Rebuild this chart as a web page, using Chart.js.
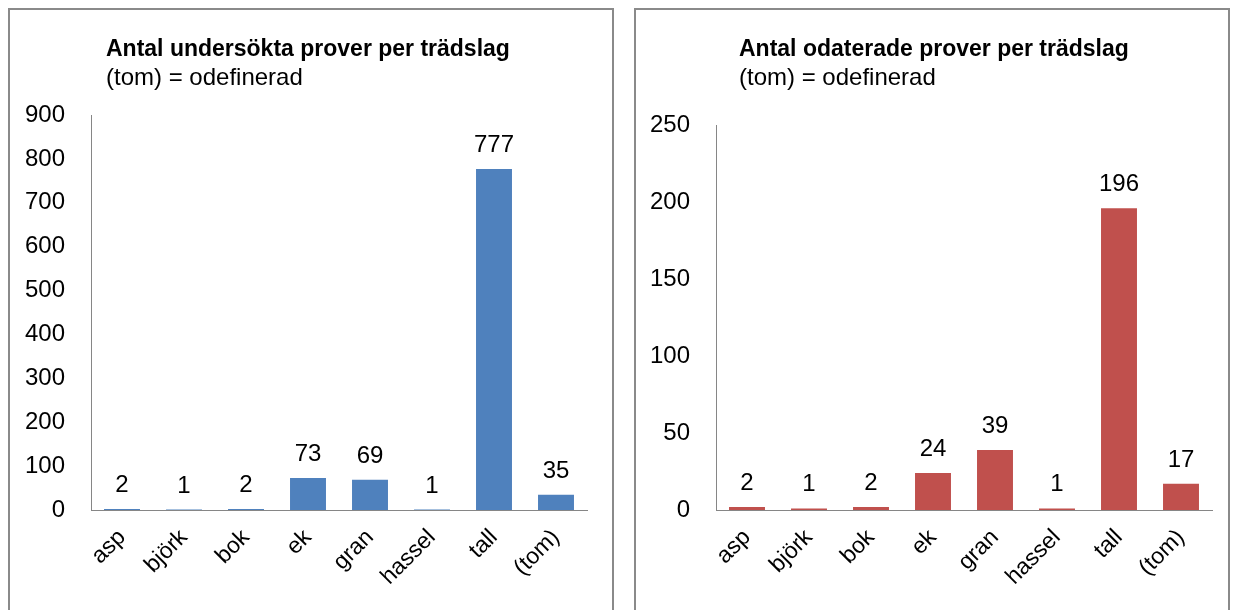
<!DOCTYPE html>
<html>
<head>
<meta charset="utf-8">
<script src="https://cdn.jsdelivr.net/npm/chart.js@4.4.1/dist/chart.umd.min.js"></script>
<style>
  body { margin: 0; background: #fff; width: 1236px; height: 610px; overflow: hidden; position: relative; }
  .panel { position: absolute; top: 8px; height: 620px; border: 2px solid #8a8a8a; background: #fff; }
  .panel canvas { position: absolute; left: 0; top: 0; }
  .title { position: absolute; font-family: "Liberation Sans", Arial, sans-serif; color: #000; white-space: nowrap; }
  .title b { display: block; font-size: 23px; line-height: 26px; }
  .title span { display: block; font-size: 24px; line-height: 28px; margin-top: 2px; }
</style>
</head>
<body>
<div class="panel" id="p1" style="left:8px; width:602px;">
  <canvas id="c1" width="602" height="600"></canvas>
  <div class="title" style="left:96px; top:25px;"><b>Antal undersökta prover per trädslag</b><span>(tom) = odefinerad</span></div>
</div>
<div class="panel" id="p2" style="left:634px; width:592px;">
  <canvas id="c2" width="592" height="600"></canvas>
  <div class="title" style="left:103px; top:25px;"><b>Antal odaterade prover per trädslag</b><span>(tom) = odefinerad</span></div>
</div>
<script>
const categories = ['asp', 'björk', 'bok', 'ek', 'gran', 'hassel', 'tall', '(tom)'];
const examined = [2, 1, 2, 73, 69, 1, 777, 35];
const undated = [2, 1, 2, 24, 39, 1, 196, 17];
const fontFamily = '"Liberation Sans", Arial, sans-serif';

// value labels above every bar
const valueLabels = {
  id: 'valueLabels',
  afterDatasetsDraw(chart) {
    const ctx = chart.ctx;
    const meta = chart.getDatasetMeta(0);
    ctx.save();
    ctx.font = '24px ' + fontFamily;
    ctx.fillStyle = '#000';
    ctx.textAlign = 'center';
    ctx.textBaseline = 'alphabetic';
    meta.data.forEach((bar, i) => {
      ctx.fillText(String(chart.data.datasets[0].data[i]), bar.x, bar.y - 17);
    });
    ctx.restore();
  }
};

function renderChart(id, values, color, max, step, pad) {
  new Chart(document.getElementById(id).getContext('2d'), {
    type: 'bar',
    data: {
      labels: categories,
      datasets: [{
        data: values,
        backgroundColor: color,
        borderWidth: 0,
        categoryPercentage: 1,
        barPercentage: 0.58
      }]
    },
    options: {
      responsive: false,
      animation: false,
      layout: { padding: pad },
      plugins: { legend: { display: false }, tooltip: { enabled: false } },
      scales: {
        x: {
          grid: { display: false, drawTicks: false },
          border: { color: '#868686', width: 1 },
          ticks: { color: '#000', font: { family: fontFamily, size: 23 }, minRotation: 45, maxRotation: 45, padding: 14 },
          afterFit: axis => { axis.height = 100; }
        },
        y: {
          min: 0,
          max: max,
          grid: { display: false, drawTicks: false },
          border: { color: '#868686', width: 1 },
          ticks: { stepSize: step, color: '#000', font: { family: fontFamily, size: 24 }, padding: 26 },
          afterFit: axis => { axis.width = 70; }
        }
      }
    },
    plugins: [valueLabels]
  });
}

renderChart('c1', examined, '#4f81bd', 900, 100, { left: 11, right: 25, top: 105, bottom: 0 });
renderChart('c2', undated, '#c0504d', 250, 50, { left: 10, right: 16, top: 115, bottom: 0 });
</script>
</body>
</html>
